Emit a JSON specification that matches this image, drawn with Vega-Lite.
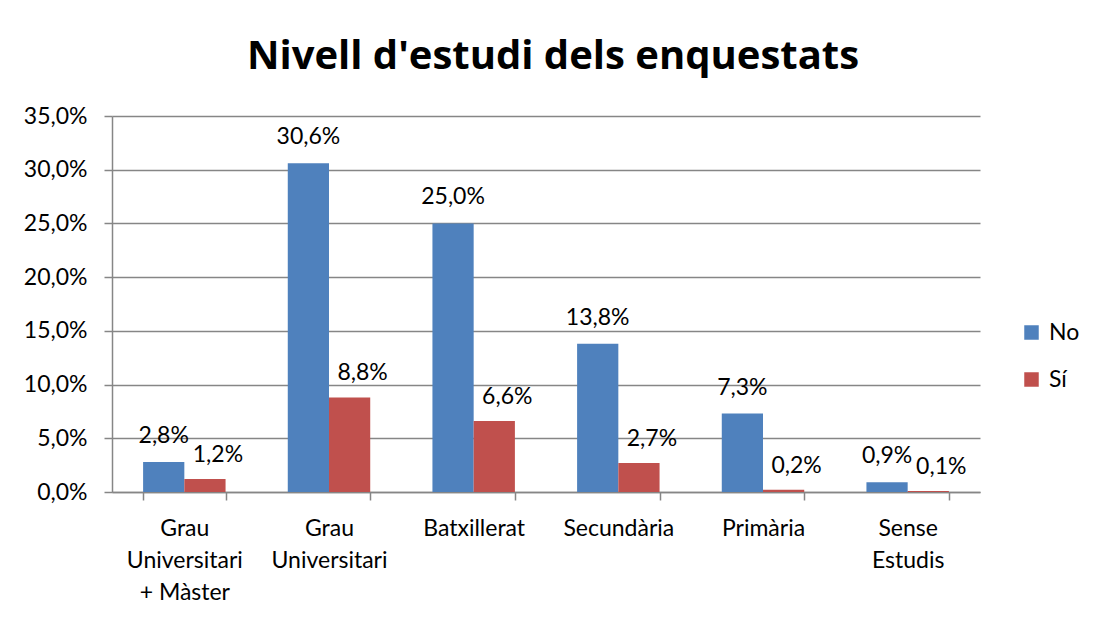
{
  "$schema": "https://vega.github.io/schema/vega-lite/v6.json",
  "width": 868,
  "height": 376,
  "autosize": "none",
  "padding": {"left": 112, "top": 116, "right": 122, "bottom": 132},
  "background": "white",
  "config": {
    "locale": {"number": {"decimal": ",", "thousands": ".", "grouping": [3], "currency": ["", " €"]}},
    "font": "Lato",
    "view": {"stroke": null}
  },
  "title": {
    "text": "Nivell d'estudi dels enquestats",
    "font": "Open Sans",
    "fontSize": 40,
    "fontWeight": "bold",
    "color": "#000000",
    "anchor": "middle",
    "frame": "group",
    "offset": 28,
    "dx": 7
  },
  "data": {
    "values": [
      {"nivell": "Grau Universitari + Màster", "resposta": "No", "valor": 0.028},
      {"nivell": "Grau Universitari + Màster", "resposta": "Sí", "valor": 0.012},
      {"nivell": "Grau Universitari", "resposta": "No", "valor": 0.306},
      {"nivell": "Grau Universitari", "resposta": "Sí", "valor": 0.088},
      {"nivell": "Batxillerat", "resposta": "No", "valor": 0.250},
      {"nivell": "Batxillerat", "resposta": "Sí", "valor": 0.066},
      {"nivell": "Secundària", "resposta": "No", "valor": 0.138},
      {"nivell": "Secundària", "resposta": "Sí", "valor": 0.027},
      {"nivell": "Primària", "resposta": "No", "valor": 0.073},
      {"nivell": "Primària", "resposta": "Sí", "valor": 0.002},
      {"nivell": "Sense Estudis", "resposta": "No", "valor": 0.009},
      {"nivell": "Sense Estudis", "resposta": "Sí", "valor": 0.001}
    ]
  },
  "encoding": {
    "x": {
      "field": "nivell",
      "type": "nominal",
      "sort": null,
      "scale": {"paddingInner": 0.43, "paddingOuter": 0.215},
      "axis": {
        "title": null,
        "labelAngle": 0,
        "labelFontSize": 23,
        "labelColor": "#000000",
        "labelLineHeight": 32,
        "labelPadding": 17,
        "labelBaseline": "top",
        "tickBand": "extent",
        "tickSize": 8,
        "tickColor": "#868686",
        "tickWidth": 1.5,
        "domainColor": "#868686",
        "domainWidth": 1.5,
        "labelExpr": "datum.value == 'Grau Universitari + Màster' ? ['Grau', 'Universitari', '+ Màster'] : datum.value == 'Grau Universitari' ? ['Grau', 'Universitari'] : datum.value == 'Sense Estudis' ? ['Sense', 'Estudis'] : datum.value"
      }
    },
    "xOffset": {"field": "resposta", "type": "nominal", "sort": ["No", "Sí"]},
    "y": {
      "field": "valor",
      "type": "quantitative",
      "scale": {"domain": [0, 0.35], "nice": false},
      "axis": {
        "title": null,
        "format": ".1%",
        "values": [0, 0.05, 0.1, 0.15, 0.2, 0.25, 0.3, 0.35],
        "labelFontSize": 23,
        "labelColor": "#000000",
        "labelPadding": 17,
        "tickSize": 8,
        "tickColor": "#868686",
        "tickWidth": 1.5,
        "domainColor": "#868686",
        "domainWidth": 1.5,
        "gridColor": "#868686",
        "gridWidth": 1.5
      }
    }
  },
  "layer": [
    {
      "mark": {"type": "bar"},
      "encoding": {
        "color": {
          "field": "resposta",
          "type": "nominal",
          "sort": ["No", "Sí"],
          "scale": {"domain": ["No", "Sí"], "range": ["#4F81BD", "#C0504D"]},
          "legend": {
            "title": null,
            "orient": "none",
            "legendX": 908,
            "legendY": 205,
            "symbolType": "square",
            "symbolSize": 210,
            "symbolStrokeWidth": 0,
            "labelFontSize": 23,
            "labelColor": "#000000",
            "rowPadding": 23,
            "labelOffset": 6
          }
        }
      }
    },
    {
      "transform": [{"filter": "datum.resposta == 'No'"}],
      "mark": {"type": "text", "baseline": "middle", "dy": -26, "fontSize": 23, "color": "#000000"},
      "encoding": {
        "text": {"field": "valor", "type": "quantitative", "format": ".1%"}
      }
    },
    {
      "transform": [{"filter": "datum.resposta == 'Sí'"}],
      "mark": {"type": "text", "baseline": "middle", "dy": -24, "dx": 13, "fontSize": 23, "color": "#000000"},
      "encoding": {
        "text": {"field": "valor", "type": "quantitative", "format": ".1%"}
      }
    }
  ]
}
